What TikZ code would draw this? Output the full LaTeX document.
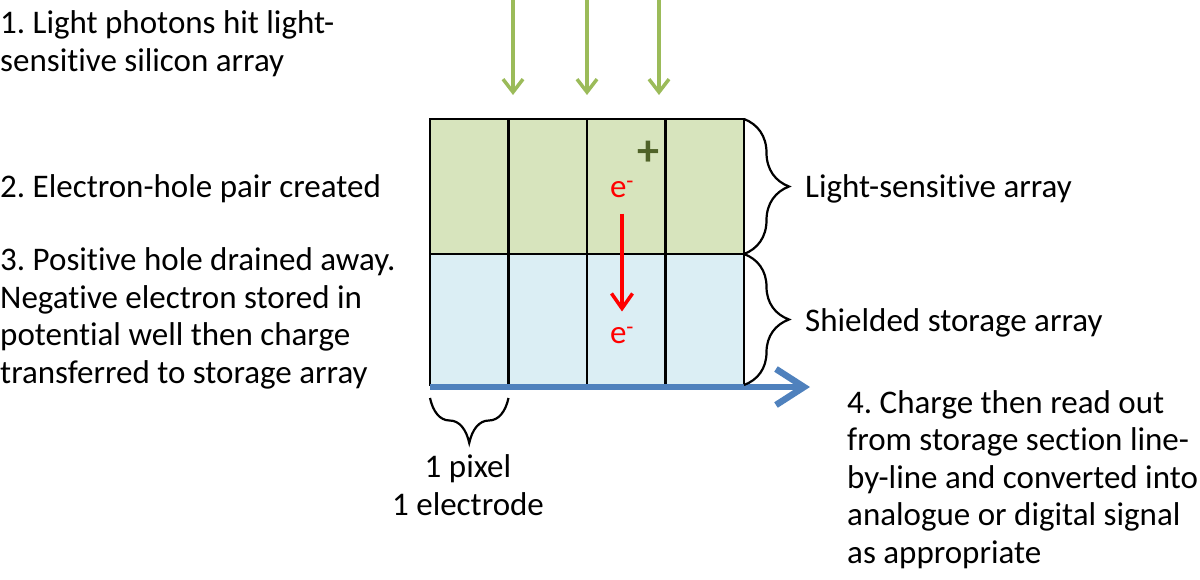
\documentclass[tikz,border=0pt]{standalone}
\usepackage{fontspec}
\setmainfont{Carlito}[Ligatures={NoCommon,NoContextual}]
\usetikzlibrary{arrows.meta,positioning,calc,decorations.pathreplacing}
\definecolor{sensgreen}{HTML}{D7E4BD}
\definecolor{storeblue}{HTML}{DBEEF4}
\definecolor{photongreen}{HTML}{9BBB59}
\definecolor{readblue}{HTML}{4F81BD}
\definecolor{holegreen}{HTML}{4F6228}
\frenchspacing

\begin{document}
\begin{tikzpicture}[
  x=1pt, y=-1pt,
  font=\fontsize{33}{37.5}\selectfont,
  txt/.style={align=left, anchor=base west, inner sep=0pt},
  cell/.style={draw, line width=2.8pt, inner sep=0pt, outer sep=0pt,
    minimum width=78.5pt, anchor=north west},
  photon/.style={photongreen, line width=3.5pt, -{Straight Barb[length=13pt, width=20pt]}},
  drift/.style={red, line width=3.5pt, -{Straight Barb[length=15pt, width=21pt]}},
  readout/.style={readblue, line width=6.5pt, -{Straight Barb[length=28pt, width=36pt]}},
  brc/.style={decorate, decoration={brace, amplitude=45pt}, line width=2.2pt},
  charge/.style={text=red, inner sep=0pt}
]
\useasboundingbox (0,0) rectangle (1200,579);

% the CCD pixels: light-sensitive rows over shielded storage rows
\foreach \i in {0,...,3} {
  \node[cell, fill=sensgreen, minimum height=135pt] (top\i) at ({430+78.5*\i},119) {};
  \node[cell, fill=storeblue, minimum height=131pt] (bot\i) at ({430+78.5*\i},254) {};
}

% incoming photons
\foreach \n/\x in {a/513, b/587, c/659} {
  \coordinate (src\n) at (\x,0);
  \coordinate (hit\n) at (\x,95);
  \draw[photon] (src\n) -- (hit\n);
}

% electron-hole pair
\node[text=holegreen, font=\bfseries\fontsize{44}{44}\selectfont, inner sep=0pt] (hole) at (648,153) {+};
\node[charge] (eup) at (622,189) {e\textsuperscript{-}};
\node[charge] (edown) at (622,335) {e\textsuperscript{-}};
\draw[drift, shorten <=16pt, shorten >=15pt] (eup.south) -- (edown.north);

% read-out register
\coordinate (rostart) at (bot0.south west);
\coordinate (roend) at (810,387);
\draw[readout] ($(rostart)+(0,2)$) -- (roend);

% braces
\draw[brc] (top3.north east) -- (top3.south east);
\draw[brc] (bot3.north east) -- (bot3.south east);
\draw[brc, decoration={mirror}] ($(bot0.south west)+(0,13)$) -- ($(bot0.south east)+(0,13)$);

\node[anchor=west, inner sep=0pt] (senslbl) at ($(top3.east)+(61,2)$) {Light-sensitive array};
\node[anchor=west, inner sep=0pt] (storelbl) at ($(bot3.east)+(61,3)$) {Shielded storage array};
\node[align=center, anchor=base, inner sep=0pt] (pixlbl) at (468,515) {1 pixel\\1 electrode};

% steps
\node[txt] (step1) at (0,71) {1. Light photons hit light-\\sensitive silicon array};
\node[txt] (step2) at (0,197) {2. Electron-hole pair created};
\node[txt] (step3) at (0,383) {3. Positive hole drained away.\\Negative electron stored in\\potential well then charge\\transferred to storage array};
\node[txt] (step4) at (847,563) {4. Charge then read out\\from storage section line-\\by-line and converted into\\analogue or digital signal\\as appropriate};
\end{tikzpicture}
\end{document}
